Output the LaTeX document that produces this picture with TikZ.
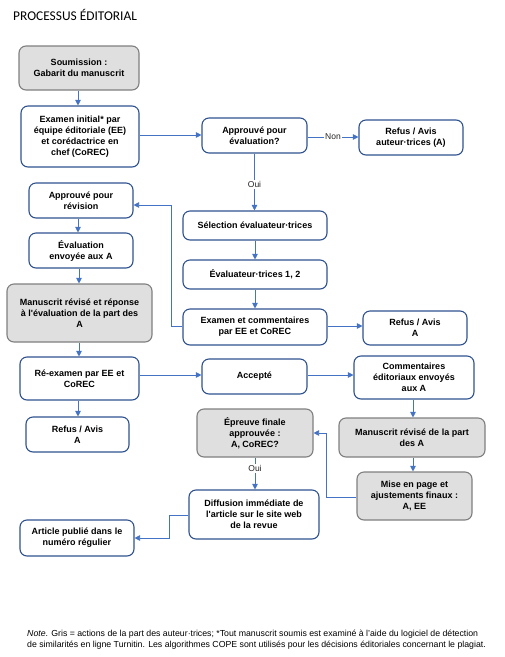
\documentclass[tikz,border=0pt]{standalone}
\usepackage{fontspec}
\setmainfont{Liberation Sans}
\newfontfamily\bx{Liberation Sans}
\newfontfamily\titlefont{Carlito}
\usetikzlibrary{arrows.meta}
\definecolor{bborder}{HTML}{2F528F}
\definecolor{arrowc}{HTML}{4472C4}
\definecolor{gfill}{HTML}{DFDFDF}
\definecolor{gborder}{HTML}{7F7F7F}
\tikzset{
  box/.style={draw=bborder, line width=1.1pt, rounded corners=7pt, fill=white,
    align=center, inner sep=0pt, font=\bx\bfseries\fontsize{9}{11}\selectfont},
  gbox/.style={box, draw=gborder, fill=gfill},
  conn/.style={draw=arrowc, line width=0.8pt, -{Triangle[length=5.5pt,width=5.5pt]}},
  lbl/.style={fill=white, inner sep=1.5pt, font=\fontsize{8.5}{10}\selectfont, text=black!85}
}
\begin{document}
\begin{tikzpicture}[x=1pt,y=-1pt]
\useasboundingbox (0,0) rectangle (505,657);
\node[anchor=base west, inner sep=0pt, font=\titlefont\fontsize{13.4}{15}\selectfont] (title) at (13,20) {PROCESSUS ÉDITORIAL};

\node[gbox, minimum width=120, minimum height=44] (so) at (79,68) {Soumission :\\Gabarit du manuscrit};
\node[box, minimum width=118, minimum height=61] (ei) at (80,136.5) {Examen initial* par\\équipe éditoriale (EE)\\et corédactrice en\\chef (CoREC)};
\node[box, minimum width=105, minimum height=35] (ae) at (254.5,135.5) {Approuvé pour\\évaluation?};
\node[box, minimum width=104, minimum height=35] (rf) at (411,137.5) {Refus / Avis\\auteur·trices (A)};
\node[box, minimum width=104, minimum height=35] (ar) at (81,200.5) {Approuvé pour\\révision};
\node[box, minimum width=104, minimum height=35] (ee) at (81,250.5) {Évaluation\\envoyée aux A};
\node[gbox, minimum width=145, minimum height=58] (mr) at (79.5,313) {Manuscrit révisé et réponse\\à l'évaluation de la part des\\A};
\node[box, minimum width=144, minimum height=29] (se) at (255,225.5) {Sélection évaluateur·trices};
\node[box, minimum width=144, minimum height=29] (ev) at (255,274.5) {Évaluateur·trices 1, 2};
\node[box, minimum width=144, minimum height=36] (ec) at (255,327) {Examen et commentaires\\par EE et CoREC};
\node[box, minimum width=104, minimum height=34] (ra) at (415,328) {Refus / Avis\\A};
\node[box, minimum width=119, minimum height=43] (re) at (79.5,378.5) {Ré-examen par EE et\\CoREC};
\node[box, minimum width=103, minimum height=35] (rl) at (77.5,434.5) {Refus / Avis\\A};
\node[box, minimum width=105, minimum height=35] (acc) at (254.5,376.5) {Accepté};
\node[box, minimum width=120, minimum height=43] (co) at (414,377.5) {Commentaires\\éditoriaux envoyés\\aux A};
\node[gbox, minimum width=116, minimum height=48] (ep) at (255,433) {Épreuve finale\\approuvée :\\A, CoREC?};
\node[gbox, minimum width=146, minimum height=39] (ms) at (412,437.5) {Manuscrit révisé de la part\\des A};
\node[gbox, minimum width=115, minimum height=48] (mp) at (414.5,496) {Mise en page et\\ajustements finaux :\\A, EE};
\node[box, minimum width=130, minimum height=49] (di) at (254,514.5) {Diffusion immédiate de\\l'article sur le site web\\de la revue};
\node[box, minimum width=114, minimum height=36] (ap) at (77,538) {Article publié dans le\\numéro régulier};

% connectors
\draw[conn] (so.south -| 78,0) -- (78,0 |- ei.north);
\draw[conn] (ei.east |- 0,135) -- (ae.west |- 0,135);
\draw[conn] (ae.east |- 0,137) -- node[lbl] {Non} (rf.west |- 0,137);
\draw[conn] (ae.south) -- node[lbl, pos=0.55] {Oui} (ae.south |- se.north);
\draw[conn] (se.south) -- (ev.north);
\draw[conn] (ev.south) -- (ec.north);
\draw[conn] (ec.east |- 0,326) -- (ra.west |- 0,326);
\draw[conn] (ec.west |- 0,326) -- (171,326) |- ([yshift=-4.5pt]ar.east);
\draw[conn] (ar.south -| 78,0) -- (78,0 |- ee.north);
\draw[conn] (ee.south -| 79,0) -- (79,0 |- mr.north);
\draw[conn] (mr.south -| 79,0) -- (79,0 |- re.north);
\draw[conn] (re.south -| 78,0) -- (78,0 |- rl.north);
\draw[conn] (re.east |- 0,375) -- (acc.west |- 0,375);
\draw[conn] (acc.east |- 0,375) -- (co.west |- 0,375);
\draw[conn] (co.south -| 413,0) -- (413,0 |- ms.north);
\draw[conn] (ms.south -| 413,0) -- (413,0 |- mp.north);
\draw[conn] (mp.west |- 0,497) -- (326,497) |- (ep.east);
\draw[conn] (ep.south) -- node[lbl, pos=0.35] {Oui} (ep.south |- di.north);
\draw[conn] (di.west |- 0,515) -- (169,515) |- (ap.east);

\node[anchor=base west, inner sep=0pt, align=left, font=\fontsize{8.75}{11}\selectfont] (note) at (27,647) {\textit{Note}. Gris = actions de la part des auteur·trices; *Tout manuscrit soumis est examiné à l'aide du logiciel de détection\\de similarités en ligne Turnitin. Les algorithmes COPE sont utilisés pour les décisions éditoriales concernant le plagiat.};
\end{tikzpicture}
\end{document}
